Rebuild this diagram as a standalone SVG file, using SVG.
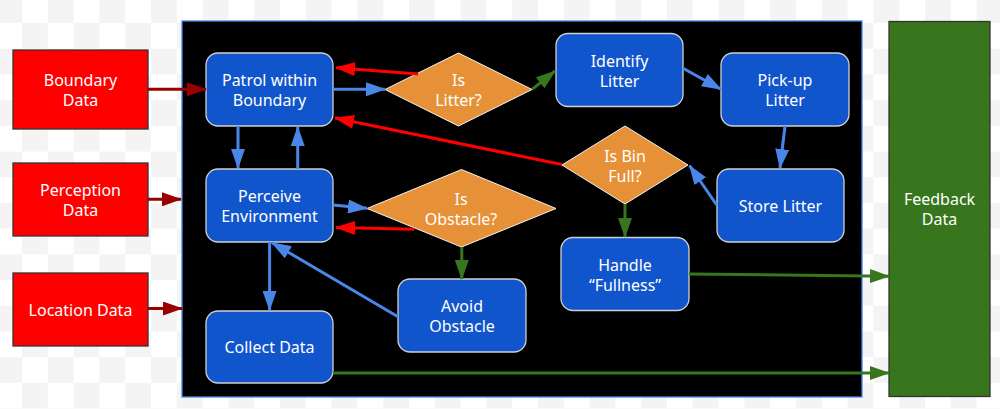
<svg xmlns="http://www.w3.org/2000/svg" width="1000" height="409" viewBox="0 0 1000 409">
<style>
  text { font-family: "Noto Sans", "Open Sans", "DejaVu Sans", sans-serif; font-size: 16px; fill: #ffffff; text-anchor: middle; }
  .node { fill: #1155cc; stroke: #d0d0d0; stroke-width: 1.3; }
  .dia { fill: #e69138; stroke: #f3f3f3; stroke-width: 1; }
  .input { fill: #ff0000; stroke: #333333; stroke-width: 1.3; }
  .out { fill: #38761d; stroke: #333333; stroke-width: 1.3; }
  .blue { stroke: #4a86e8; stroke-width: 3; fill: none; marker-end: url(#mBlue); }
  .red { stroke: #ff0000; stroke-width: 3; fill: none; marker-end: url(#mRed); }
  .green { stroke: #38761d; stroke-width: 3; fill: none; marker-end: url(#mGreen); }
  .dred { stroke: #990000; stroke-width: 3; fill: none; marker-end: url(#mDred); }
</style>
<defs>
  <pattern id="checker" patternUnits="userSpaceOnUse" x="-3.8" y="-2.7" width="51.6" height="51.4">
    <rect x="0" y="0" width="51.6" height="51.4" fill="#ffffff"/>
    <rect x="0" y="0" width="25.8" height="25.7" fill="#f4f4f4"/>
    <rect x="25.8" y="25.7" width="25.8" height="25.7" fill="#f4f4f4"/>
  </pattern>
  <marker id="mBlue" markerUnits="userSpaceOnUse" markerWidth="20" markerHeight="14" refX="19" refY="7" orient="auto"><path d="M0,0 L20,7 L0,14 Z" fill="#4a86e8"/></marker>
  <marker id="mRed" markerUnits="userSpaceOnUse" markerWidth="20" markerHeight="14" refX="19" refY="7" orient="auto"><path d="M0,0 L20,7 L0,14 Z" fill="#ff0000"/></marker>
  <marker id="mGreen" markerUnits="userSpaceOnUse" markerWidth="20" markerHeight="14" refX="19" refY="7" orient="auto"><path d="M0,0 L20,7 L0,14 Z" fill="#38761d"/></marker>
  <marker id="mDred" markerUnits="userSpaceOnUse" markerWidth="20" markerHeight="14" refX="19" refY="7" orient="auto"><path d="M0,0 L20,7 L0,14 Z" fill="#990000"/></marker>
</defs>

<rect x="0" y="0" width="1000" height="409" fill="url(#checker)"/>

<g id="system-panel">
  <rect x="182" y="21" width="680" height="376" fill="#000000" stroke="#4a86e8" stroke-width="1.3"/>
</g>

<g id="boundary-data">
  <rect class="input" x="13" y="50" width="135" height="79"/>
  <text x="80.5" y="86">Boundary</text>
  <text x="80.5" y="106">Data</text>
</g>
<g id="perception-data">
  <rect class="input" x="13" y="163" width="135" height="73"/>
  <text x="80.5" y="196">Perception</text>
  <text x="80.5" y="216">Data</text>
</g>
<g id="location-data">
  <rect class="input" x="13" y="273" width="135" height="73"/>
  <text x="80.5" y="315.5">Location Data</text>
</g>
<g id="feedback-data">
  <rect class="out" x="889" y="21.5" width="101" height="375"/>
  <text x="939.5" y="205">Feedback</text>
  <text x="939.5" y="225">Data</text>
</g>

<g id="patrol">
  <rect class="node" x="206" y="53" width="127" height="73" rx="12"/>
  <text x="269.5" y="86">Patrol within</text>
  <text x="269.5" y="106">Boundary</text>
</g>
<g id="perceive">
  <rect class="node" x="206" y="169" width="127" height="73" rx="12"/>
  <text x="269.5" y="202">Perceive</text>
  <text x="269.5" y="222">Environment</text>
</g>
<g id="collect">
  <rect class="node" x="206" y="311" width="127" height="72" rx="12"/>
  <text x="269.5" y="353">Collect Data</text>
</g>
<g id="avoid">
  <rect class="node" x="398" y="279" width="128" height="73" rx="12"/>
  <text x="462" y="312">Avoid</text>
  <text x="462" y="332">Obstacle</text>
</g>
<g id="identify">
  <rect class="node" x="556" y="33.5" width="127" height="73" rx="12"/>
  <text x="619.5" y="66.5">Identify</text>
  <text x="619.5" y="86.5">Litter</text>
</g>
<g id="pickup">
  <rect class="node" x="721" y="53" width="128" height="73" rx="12"/>
  <text x="785" y="86">Pick-up</text>
  <text x="785" y="106">Litter</text>
</g>
<g id="store">
  <rect class="node" x="717" y="169" width="127" height="73" rx="12"/>
  <text x="780.5" y="211.5">Store Litter</text>
</g>
<g id="handle">
  <rect class="node" x="561" y="237.5" width="128" height="73" rx="12"/>
  <text x="625" y="270.5">Handle</text>
  <text x="625" y="290.5">“Fullness”</text>
</g>

<g id="is-litter">
  <polygon class="dia" points="385,89.5 458.5,53 532,89.5 458.5,126"/>
  <text x="458.5" y="86">Is</text>
  <text x="458.5" y="106">Litter?</text>
</g>
<g id="is-bin-full">
  <polygon class="dia" points="562,165 625,126 688,165 625,204"/>
  <text x="625" y="161.5">Is Bin</text>
  <text x="625" y="181.5">Full?</text>
</g>
<g id="is-obstacle">
  <polygon class="dia" points="367,208.5 461.5,169.5 556,208.5 461.5,247"/>
  <text x="461" y="205">Is</text>
  <text x="461" y="225">Obstacle?</text>
</g>

<g id="connectors">
  <line class="dred" x1="148" y1="89.3" x2="206" y2="89.3"/>
  <line class="dred" x1="148" y1="199.3" x2="181" y2="199.3"/>
  <line class="dred" x1="148" y1="308.5" x2="182" y2="308.5"/>

  <line class="blue" x1="333" y1="89.3" x2="385" y2="89.3"/>
  <line class="red" x1="418" y1="74" x2="336" y2="67.7"/>
  <line class="green" x1="532" y1="89.3" x2="555" y2="71"/>
  <line class="blue" x1="683" y1="68.3" x2="721" y2="89.3"/>
  <line class="blue" x1="785" y1="126" x2="780" y2="168"/>
  <line class="blue" x1="716.7" y1="205" x2="689.5" y2="165.5"/>
  <line class="red" x1="562" y1="164.5" x2="335" y2="118"/>
  <line class="green" x1="625" y1="204" x2="625" y2="237"/>
  <line class="green" x1="689" y1="274" x2="889" y2="276.3"/>
  <line class="green" x1="333" y1="373" x2="889" y2="373"/>

  <line class="blue" x1="238" y1="126" x2="238" y2="168"/>
  <line class="blue" x1="297.7" y1="169" x2="297.7" y2="127"/>
  <line class="blue" x1="333" y1="205" x2="367" y2="208.3"/>
  <line class="red" x1="414" y1="229.3" x2="336" y2="227.5"/>
  <line class="green" x1="461.8" y1="247" x2="461.8" y2="279"/>
  <line class="blue" x1="398" y1="316.7" x2="272" y2="242.7"/>
  <line class="blue" x1="269.6" y1="242" x2="269.6" y2="310"/>
</g>
</svg>
